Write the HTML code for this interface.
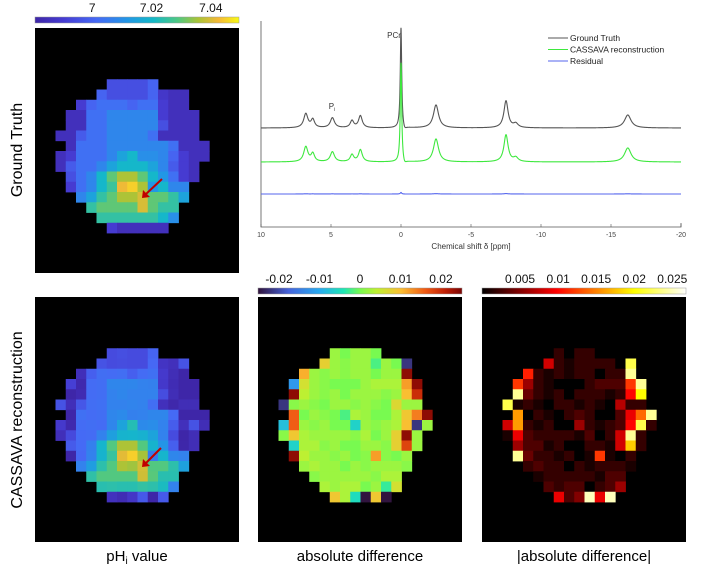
<!DOCTYPE html>
<html><head><meta charset="utf-8">
<style>
body{margin:0;background:#fff;}
svg{display:block;font-family:"Liberation Sans",sans-serif;}
</style></head>
<body>
<svg id="fig" width="702" height="578" viewBox="0 0 702 578" xmlns="http://www.w3.org/2000/svg">
<defs>
<linearGradient id="gParula"></linearGradient>
<linearGradient id="gTurbo"></linearGradient>
<linearGradient id="gHot"></linearGradient>
</defs>
<g id="panels"></g>
<g id="spectrum"></g>
<text x="22" y="150" font-size="16" text-anchor="middle" transform="rotate(-90 22 150)">Ground Truth</text>
<text x="22" y="420" font-size="16" text-anchor="middle" transform="rotate(-90 22 420)">CASSAVA reconstruction</text>
<text x="137" y="561" font-size="15" text-anchor="middle">pH<tspan font-size="10" dy="3">i</tspan><tspan dy="-3"> value</tspan></text>
<text x="360" y="561" font-size="15" text-anchor="middle">absolute difference</text>
<text x="584" y="561" font-size="15" text-anchor="middle">|absolute difference|</text>
</svg>
<script>
// ---------- heatmap data ----------
const rowStart = [5,6,7,8,9,10,11,12,13,14,15,16,17,18,19];
const colStart = [7,6,4,3,3,2,3,2,2,3,3,4,5,6,7];
const gtRows = [
[6.995,6.995,6.995,6.995,7.0],
[7.0,6.995,6.995,6.995,6.995,7.0,6.988,6.985,6.985],
[6.99,7.0,7.003,7.003,7.003,7.0,7.003,7.003,6.99,6.985,6.985],
[6.985,6.985,7.003,7.003,7.008,7.008,7.008,7.008,7.008,6.99,6.985,6.985,6.985],
[6.985,6.985,7.003,7.003,7.008,7.008,7.008,7.008,7.008,6.995,6.985,6.985,6.985],
[6.985,6.985,6.998,7.003,7.003,7.008,7.008,7.008,7.008,7.003,6.985,6.985,6.985,6.985],
[6.985,7.003,7.003,7.003,7.008,7.008,7.008,7.008,7.008,7.008,7.003,6.985,6.985,6.985],
[6.985,6.99,7.003,7.003,7.003,7.008,7.015,7.02,7.01,7.01,7.008,7.0,6.99,6.985,6.985],
[6.985,6.998,7.003,7.003,7.008,7.015,7.02,7.02,7.02,7.015,7.008,6.998,6.99,6.985],
[6.995,7.003,7.008,7.02,7.03,7.036,7.036,7.03,7.02,7.012,7.003,6.99,6.985],
[6.99,7.003,7.008,7.02,7.026,7.042,7.045,7.036,7.012,7.02,7.008,7.008],
[7.008,7.015,7.025,7.03,7.036,7.036,7.04,7.03,7.03,7.025,7.015],
[7.025,7.03,7.03,7.03,7.03,7.04,7.03,7.025,7.025],
[7.025,7.025,7.025,7.025,7.025,7.025,7.02,7.01],
[6.99,6.985,6.985,6.985,6.985,6.985]
];
const diffRows = [
[0.002,0.0,0.002,0.002,0.0],
[0.008,0.002,0.001,0.002,0.002,-0.002,0.002,0.0,-0.022],
[0.011,0.002,0.001,0.002,0.001,0.002,0.002,0.0,0.002,0.002,0.024],
[-0.012,0.006,0.002,0.001,0.0,0.0,0.0,0.002,0.003,0.003,0.003,0.012,0.024],
[0.024,0.004,0.002,0.001,0.002,0.0,0.002,0.002,0.002,0.001,0.002,0.01,0.02],
[-0.022,0.001,0.002,0.001,0.0,0.002,0.002,0.001,0.002,0.001,0.0,0.007,0.002,0.002],
[0.016,0.0,0.002,0.001,0.0,-0.002,0.003,0.002,0.0,0.0,0.003,0.009,0.014,0.024],
[-0.008,0.016,0.002,0.001,0.002,0.0,0.0,-0.006,0.002,0.001,0.002,0.003,0.01,-0.022,0.002],
[0.001,0.009,0.003,0.002,0.002,0.002,0.002,0.001,0.003,0.0,0.002,0.008,0.024,0.002],
[-0.006,0.003,0.003,0.001,0.002,0.0,0.0,0.002,0.002,0.001,0.008,0.018,0.002],
[0.024,0.004,0.002,0.002,0.001,0.002,0.0,0.001,0.012,0.001,0.0,0.002],
[0.002,0.003,0.002,0.002,0.0,0.002,0.001,0.002,0.002,0.002,0.001],
[0.001,0.002,0.002,0.002,0.002,0.002,0.001,0.003,0.003],
[0.003,0.002,0.003,0.003,0.0,0.002,-0.003,0.006],
[0.009,0.003,-0.005,-0.025,0.009,-0.025]
];
const phTicks = [7, 7.02, 7.04];
const diffTicks = [-0.02, -0.01, 0, 0.01, 0.02];
const absTicks = [0.005, 0.01, 0.015, 0.02, 0.025];

// ---------- spectrum data ----------
const peakPpm   = [6.8, 6.3, 4.9, 3.5, 2.9, 0.0, -0.25, -2.5, -7.5, -8.2, -16.2];
const gtAmp     = [14, 8, 10, 7, 12, 101, -4, 23, 27, 4, 13];
const reconAmp  = [15, 8, 10, 7, 12, 100, -4, 23, 27, 4, 14];
const peakWidth = [0.18, 0.15, 0.18, 0.15, 0.16, 0.06, 0.15, 0.22, 0.18, 0.2, 0.28];
const xTicks = [10, 5, 0, -5, -10, -15, -20];
const legendLabels = ["Ground Truth", "CASSAVA reconstruction", "Residual"];

// ---------- colormaps ----------
const parula = [[0,[62,38,168]],[0.14,[70,60,210]],[0.3,[70,105,245]],[0.45,[35,150,230]],[0.58,[20,185,200]],[0.7,[80,200,130]],[0.8,[170,195,55]],[0.9,[245,185,55]],[1,[248,250,20]]];
const turbo = [[0,[48,18,59]],[0.15,[70,100,220]],[0.3,[40,170,240]],[0.42,[30,230,180]],[0.5,[120,250,80]],[0.58,[190,240,50]],[0.7,[250,190,50]],[0.82,[240,90,20]],[0.92,[190,30,5]],[1,[122,4,3]]];
const hot = [[0,[0,0,0]],[0.365,[255,0,0]],[0.746,[255,255,0]],[1,[255,255,255]]];
function cmap(stops,t){t=Math.max(0,Math.min(1,t));for(let i=1;i<stops.length;i++){if(t<=stops[i][0]){const a=stops[i-1],b=stops[i];const f=(t-a[0])/(b[0]-a[0]);const c=a[1].map((v,k)=>Math.round(v+(b[1][k]-v)*f));return `rgb(${c[0]},${c[1]},${c[2]})`;}}const c=stops[stops.length-1][1];return `rgb(${c[0]},${c[1]},${c[2]})`;}
const NS="http://www.w3.org/2000/svg";
function el(tag,attrs,parent){const e=document.createElementNS(NS,tag);for(const k in attrs)e.setAttribute(k,attrs[k]);parent.appendChild(e);return e;}
function fillGrad(id,stops){const g=document.getElementById(id);stops.forEach(s=>{const st=el('stop',{offset:s[0],'stop-color':cmap(stops,s[0])},g);});}
fillGrad('gParula',parula);fillGrad('gTurbo',turbo);fillGrad('gHot',hot);

const panelsG=document.getElementById('panels');
const CELL=10.25;
function drawMap(name,px,py,valueFn,stops,vmin,vmax){
  const g=el('g',{},panelsG);
  
  
  const bg=el('rect',{x:px,y:py,width:204,height:245,fill:'#000'},g);
  
  
  rowStart.forEach((r,i)=>{
    gtRows[i].forEach((_,j)=>{
      const v=valueFn(i,j);
      const c=el('rect',{x:px+(colStart[i]+j)*CELL,y:py+r*CELL,width:CELL+0.4,height:CELL+0.4,fill:cmap(stops,(v-vmin)/(vmax-vmin))},g);
      
      
    });
  });
  return g;
}
function drawColorbar(name,x0,y0,w,grad,vmin,vmax,ticks,fmt){
  const g=el('g',{},panelsG);
  
  
  const r=el('rect',{x:x0,y:y0,width:w,height:6,fill:`url(#${grad})`,stroke:'#999','stroke-width':0.5},g);
  
  
  ticks.forEach(t=>{
    const x=x0+(t-vmin)/(vmax-vmin)*w;
    const tx=el('text',{x:x,y:y0-5,'font-size':12,'text-anchor':'middle',fill:'#111'},g);
    tx.textContent=fmt(t);
    
    
  });
}
const phMin=6.9807,phMax=7.0495,dMin=-0.0252,dMax=0.0252,aMin=0,aMax=0.0268;
drawColorbar('ph-colorbar',35,17,204,'gParula',phMin,phMax,phTicks,t=>String(+t.toFixed(2)));
drawColorbar('diff-colorbar',258,288,204,'gTurbo',dMin,dMax,diffTicks,t=>String(+t.toFixed(2)));
drawColorbar('abs-colorbar',482,288,204,'gHot',aMin,aMax,absTicks,t=>String(+t.toFixed(3)));
drawMap('ground-truth-ph-map',35,28,(i,j)=>gtRows[i][j],parula,phMin,phMax);
drawMap('reconstruction-ph-map',35,297,(i,j)=>gtRows[i][j]-diffRows[i][j]*0.5,parula,phMin,phMax);
drawMap('difference-map',258,297,(i,j)=>diffRows[i][j],turbo,dMin,dMax);
drawMap('abs-difference-map',482,297,(i,j)=>Math.abs(diffRows[i][j]),hot,aMin,aMax);
function arrow(name,x1,y1,x2,y2){
  const a=el('g',{},panelsG);
  
  
  el('line',{x1:x1,y1:y1,x2:x2+4,y2:y2-4,stroke:'#c00000','stroke-width':2},a);
  el('polygon',{points:`${x2},${y2} ${x2+1},${y2-8} ${x2+8},${y2-1}`,fill:'#c00000'},a);
}
arrow('ground-truth-arrow',162,179,142,198);
arrow('reconstruction-arrow',161,448,142,467);

// ---------- spectrum ----------
const sp=document.getElementById('spectrum');
const X0=261,X1=681,YT=27,YB=227;
const xs=p=>X0+(10-p)/30*(X1-X0);
function spec(amps,p){let s=0;for(let k=0;k<peakPpm.length;k++){const w=peakWidth[k];const d=p-peakPpm[k];s+=amps[k]*w*w/(d*d+w*w);}return s;}
function curve(name,amps,base,color,scale){
  let d='';
  for(let p=10;p>=-20.0001;p-=0.01){const y=base-scale*spec(amps,p);d+=(d?'L':'M')+xs(p).toFixed(2)+','+y.toFixed(2);}
  const path=el('path',{d:d,fill:'none',stroke:color,'stroke-width':1.1},sp);
  
  
}
const ax=el('path',{d:`M${X0},${YT-6} L${X0},${YB} L${X1},${YB} L${X1},${YB-4}`,fill:'none',stroke:'#555','stroke-width':0.8},sp);


xTicks.forEach(t=>{
  const x=xs(t);
  const tk=el('line',{x1:x,y1:YB,x2:x,y2:YB-3,stroke:'#555','stroke-width':0.6},sp);
  
  
  const tx=el('text',{x:x,y:YB+10,'font-size':7,'text-anchor':'middle',fill:'#444'},sp);
  tx.textContent=String(t);
  
  
});
const xt=el('text',{x:471,y:YB+22,'font-size':8,'text-anchor':'middle',fill:'#333'},sp);
xt.textContent='Chemical shift δ [ppm]';


curve('ground-truth-line',gtAmp,128,'#555',1);
curve('reconstruction-line',reconAmp,162,'#3ee83e',1);
curve('residual-line',gtAmp,194,'#5566ee',0.015);
const pcr=el('text',{x:394,y:38,'font-size':8,'text-anchor':'middle',fill:'#333'},sp);
pcr.textContent='PCr';


const pi=el('text',{x:332,y:109,'font-size':8,'text-anchor':'middle',fill:'#333'},sp);
pi.innerHTML='P<tspan font-size="5" dy="2">i</tspan>';


const legColors=['#555','#3ee83e','#5566ee'];
legendLabels.forEach((lab,i)=>{
  const y=38+i*11.5;
  const g=el('g',{},sp);
  
  
  el('line',{x1:548,y1:y,x2:568,y2:y,stroke:legColors[i],'stroke-width':1.1},g);
  const t=el('text',{x:570,y:y+3,'font-size':8.5,fill:'#222'},g);
  t.textContent=lab;
});
</script>
</body></html>
